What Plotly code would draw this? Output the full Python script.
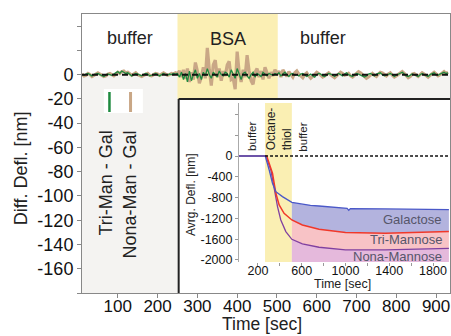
import plotly.graph_objects as go

# ---------------- main chart data ----------------
time_start, time_stop, time_step = 10, 935, 5
time_s = list(range(time_start, time_stop, time_step))  # 10 .. 930

nona_man_gal = [
    0.5, -1.0, -0.5, 1.0, 0.0, -1.5, -0.5, 0.5, 1.5, 0.5,
    -0.5, -1.5, -1.0, 0.5, 1.0, 0.0, -1.0, 0.5, 2.0, 1.0,
    2.5, 3.0, 1.5, 2.0, 0.5, -0.5, 0.5, 1.5, 0.0, -1.0,
    -1.5, -0.5, 0.5, 1.0, -0.5, -1.0, 0.0, 1.0, 0.5, -0.5,
    0.5, 1.5, 0.5, -0.5, 0.0, 1.0, 0.5, 1.5,
    # BSA 250..500
    1.0, 3.0, -2.0, 4.0, -3.5, 5.0, -6.0, 2.0, -4.0, 10.0,
    3.0, -7.0, -2.0, 6.0, -3.0, 22.0, 4.0, -9.0, 8.0, 12.0,
    -2.0, 5.0, -5.0, 3.0, -1.0, 8.0, 11.0, -4.0, -3.0, -12.0,
    19.0, 2.0, -6.0, 4.0, -2.0, 16.0, 3.0, -5.0, -8.0, 2.0,
    5.0, -2.0, 3.0, -4.0, 6.0, 1.0, -3.0, 2.0, -1.0, 4.0,
    0.5,
    # buffer 505..930
    3.0, -2.0, 4.0, 1.0, -1.5, 2.5, 0.0, -2.0, 1.5, 3.0,
    0.5, -1.5, -2.5, 0.0, 1.5, -1.0, -3.0, -1.5, 0.5, 2.0,
    1.0, -0.5, -2.0, -1.0, 0.5, 1.5, 0.0, -1.5, -2.5, -1.0,
    0.5, 2.0, 1.0, -0.5, 0.0, 1.0, -1.0, -2.0, -0.5, 1.0,
    2.5, 1.5, 0.0, -1.5, -3.0, -2.0, 0.0, 1.0, -0.5, -1.5,
    0.5, 2.0, 1.5, 0.0, -1.0, 0.5, 1.5, -0.5, -2.0, -1.0,
    0.0, 1.5, 2.5, 1.0, -0.5, -2.5, -1.5, 0.5, 1.0, -0.5,
    -1.5, 0.0, 1.5, 0.5, -1.0, -2.0, -0.5, 1.0, 2.0, 0.5,
    -1.0, 0.0, 1.5, 2.5, 1.0, 2.0,
]

tri_man_gal = [
    0.0, -0.5, 0.5, 1.0, 0.0, -1.0, 0.0, 0.5, 1.0, 0.0,
    -1.0, -1.5, -0.5, 0.5, 0.0, -0.5, 0.5, 1.5, 2.5, 1.0,
    3.0, 2.0, 1.0, 1.5, 0.0, -1.0, 0.0, 1.0, 0.5, -0.5,
    -1.0, 0.0, 1.0, 0.5, -1.0, -0.5, 0.5, 1.0, 0.0, -1.0,
    0.0, 1.0, 0.0, -0.5, 0.5, 0.0, 1.0, 0.5,
    # BSA
    1.0, -2.0, 2.0, -4.0, 1.0, -6.0, 3.0, -5.0, 0.0, 4.0,
    -3.0, 1.0, -4.0, 2.0, -1.0, 5.0, 0.0, -3.0, 2.0, 0.0,
    -2.0, 3.0, 0.0, -1.0, 2.0, 1.0, -2.0, 4.0, 0.0, -3.0,
    5.0, 0.0, -4.0, 1.0, 2.0, -1.0, -3.0, 0.0, 2.0, -2.0,
    1.0, 0.0, -1.5, 2.0, 0.5, -1.0, 1.0, 0.0, -0.5, 1.0,
    0.0,
    # buffer
    1.5, -1.0, 0.5, 2.0, 0.0, -1.5, 0.5, 1.0, -0.5, 0.0,
    -1.0, 0.5, 1.0, -0.5, -1.5, -0.5, 0.5, -1.0, -2.0, 0.0,
    1.0, 0.5, -1.0, -1.5, 0.0, 1.0, 0.5, -0.5, -1.5, 0.0,
    1.0, 0.0, -1.0, 0.5, 1.5, 0.0, -0.5, -1.5, 0.0, 1.0,
    0.5, -0.5, -1.0, -2.0, -1.0, 0.5, 1.0, 0.0, -1.0, 0.5,
    1.0, 1.5, 0.0, -1.0, -0.5, 0.5, 1.0, 0.0, -1.5, -0.5,
    0.5, 1.0, 2.0, 0.5, -1.0, -1.5, -0.5, 0.5, 0.0, -1.0,
    -1.5, 0.0, 1.0, 0.0, -0.5, -1.5, 0.0, 1.0, 1.5, 0.0,
    -0.5, 0.5, 1.0, 2.0, 1.0, 1.5,
]

main_yticks = [40, 20, 0, -20, -40, -60, -80, -100, -120, -140, -160, -180]
main_yticktext = ["", "", "0", "-20", "-40", "-60", "-80", "-100", "-120", "-140", "-160", ""]
main_xticks = [100, 200, 300, 400, 500, 600, 700, 800, 900]

# ---------------- inset data ----------------
gal_t = [27, 267, 303, 333, 364, 424, 510, 600, 680, 758, 1000, 1015, 1030, 1045, 1364, 1600, 1945]
gal_v = [0, 0, -269, -525, -686, -782, -891, -930, -950, -962, -1006, -1008, -1045, -1012, -1019, -1025, -1032]

tri_t = [27, 280, 333, 364, 394, 439, 510, 606, 758, 1000, 1364, 1650, 1945]
tri_v = [0, 0, -333, -718, -942, -1103, -1231, -1327, -1410, -1474, -1487, -1475, -1455]

nona_t = [27, 273, 318, 348, 379, 409, 455, 510, 606, 758, 1000, 1364, 1945]
nona_v = [0, 0, -269, -654, -974, -1231, -1455, -1603, -1692, -1756, -1808, -1808, -1776]

inset_yticks = [800, 400, 0, -400, -800, -1200, -1600, -2000]
inset_yticktext = ["", "", "0", "-400", "-800", "-1200", "-1600", "-2000"]
inset_xticks = [200, 400, 600, 800, 1000, 1200, 1400, 1600, 1800]
inset_xticktext = ["200", "", "600", "", "1000", "", "1400", "", "1800"]

FONT = "Liberation Sans, Arial, sans-serif"
TAN = "#c9a786"
GREEN = "#1f8a3f"
BLUE = "#4a58c8"
RED = "#f0382a"
PURPLE = "#8040a0"

fig = go.Figure()

# main traces
fig.add_trace(go.Scatter(x=time_s, y=nona_man_gal, mode="lines",
                         line=dict(color=TAN, width=3.2), hoverinfo="skip"))
fig.add_trace(go.Scatter(x=time_s, y=tri_man_gal, mode="lines",
                         line=dict(color=GREEN, width=1.3), hoverinfo="skip"))

# inset fills (from end of octanethiol band)
FILL_START = 510
Y2_BOTTOM = -2040


def seg(ts, vs):
    xs = [t for t in ts if t >= FILL_START]
    ys = [v for t, v in zip(ts, vs) if t >= FILL_START]
    return xs, ys


gx, gy = seg(gal_t, gal_v)
rx, ry = seg(tri_t, tri_v)
nx, ny = seg(nona_t, nona_v)

fig.add_trace(go.Scatter(x=gx + rx[::-1], y=gy + ry[::-1], fill="toself", mode="none",
                         fillcolor="#b3b3de", xaxis="x2", yaxis="y2", hoverinfo="skip"))
fig.add_trace(go.Scatter(x=rx + nx[::-1], y=ry + ny[::-1], fill="toself", mode="none",
                         fillcolor="#f8c3c6", xaxis="x2", yaxis="y2", hoverinfo="skip"))
fig.add_trace(go.Scatter(x=nx + [nx[-1], nx[0]], y=ny + [Y2_BOTTOM, Y2_BOTTOM], fill="toself",
                         mode="none", fillcolor="#e5b9dc", xaxis="x2", yaxis="y2", hoverinfo="skip"))

fig.add_trace(go.Scatter(x=nona_t, y=nona_v, mode="lines", line=dict(color=PURPLE, width=1.3),
                         xaxis="x2", yaxis="y2", hoverinfo="skip"))
fig.add_trace(go.Scatter(x=tri_t, y=tri_v, mode="lines", line=dict(color=RED, width=1.5),
                         xaxis="x2", yaxis="y2", hoverinfo="skip"))
fig.add_trace(go.Scatter(x=gal_t, y=gal_v, mode="lines", line=dict(color=BLUE, width=1.3),
                         xaxis="x2", yaxis="y2", hoverinfo="skip"))

shapes = [
    # light gray area below zero
    dict(type="rect", xref="x domain", yref="y", x0=0, x1=1, y0=-180, y1=0,
         fillcolor="#f4f3f1", line=dict(width=0), layer="below"),
    # BSA band
    dict(type="rect", xref="x", yref="y", x0=250, x1=502, y0=-20, y1=50,
         fillcolor="#fbefb4", line=dict(width=0), layer="below"),
    # inset box
    dict(type="rect", xref="x", yref="y", x0=253, x1=935, y0=-180, y1=-20,
         fillcolor="#ffffff", line=dict(width=0), layer="below"),
    dict(type="line", xref="x", yref="y", x0=253, x1=935, y0=-20, y1=-20,
         line=dict(color="#222222", width=2), layer="below"),
    dict(type="line", xref="x", yref="y", x0=253, x1=253, y0=-20, y1=-180,
         line=dict(color="#222222", width=2), layer="below"),
    # legend box
    dict(type="rect", xref="x", yref="y", x0=65, x1=163, y0=-31.6, y1=-11.8,
         fillcolor="#ffffff", line=dict(width=0), layer="below"),
    dict(type="line", xref="x", yref="y", x0=79, x1=79, y0=-14.3, y1=-30.8,
         line=dict(color=GREEN, width=2.5), layer="above"),
    dict(type="line", xref="x", yref="y", x0=132, x1=132, y0=-14.3, y1=-30.8,
         line=dict(color=TAN, width=3), layer="above"),
    # main zero line
    dict(type="line", xref="x domain", yref="y", x0=0, x1=1, y0=0, y1=0,
         line=dict(color="#111111", width=2, dash="6px,4px"), layer="above"),
    # inset octanethiol band
    dict(type="rect", xref="x2", yref="y2", x0=265, x1=510, y0=Y2_BOTTOM, y1=1020,
         fillcolor="#faefb3", line=dict(width=0), layer="below"),
    # inset zero line
    dict(type="line", xref="x2", yref="y2", x0=265, x1=1945, y0=0, y1=0,
         line=dict(color="#111111", width=1.5, dash="3px,2px"), layer="above"),
]

ann = []


def text(x, y, s, size, xref="x", yref="y", angle=0, color="#222222", xanchor="center",
         align="center", yanchor="middle"):
    ann.append(dict(x=x, y=y, xref=xref, yref=yref, text=s, showarrow=False, textangle=angle,
                    font=dict(family=FONT, size=size, color=color), xanchor=xanchor,
                    yanchor=yanchor, align=align))


text(130.7, 30.0, "buffer", 18)
text(377, 29.5, "BSA", 18)
text(615.8, 30.0, "buffer", 18)
text(72.8, -88.9, "Tri-Man - Gal", 18, angle=-90)
text(129.4, -99.2, "Nona-Man - Gal", 18, angle=-90)
text(0.489, -0.1541, "Time [sec]", 17.5, xref="paper", yref="paper", yanchor="bottom")
text(-0.1666, 0.446, "Diff. Defl. [nm]", 18, xref="paper", yref="paper", angle=-90)
# inset texts
text(0.296, 0.351, "Avrg. Defl. [nm]", 12, xref="paper", yref="paper", angle=-90)
text(0.708, 0.032, "Time [sec]", 12.5, xref="paper", yref="paper")
text(145, 385, "buffer", 11.5, xref="x2", yref="y2", angle=-90)
text(391, 529, "Octane-<br>thiol", 12, xref="x2", yref="y2", angle=-90, align="left")
text(609, 366, "buffer", 11.5, xref="x2", yref="y2", angle=-90)
text(1900, -1230, "Galactose", 13, xref="x2", yref="y2", color="#56566a", xanchor="right")
text(1900, -1615, "Tri-Mannose", 13, xref="x2", yref="y2", color="#56566a", xanchor="right")
text(1900, -1936, "Nona-Mannose", 13, xref="x2", yref="y2", color="#56566a", xanchor="right")

fig.update_layout(
    width=451, height=336,
    margin=dict(l=82, r=1, t=14, b=43),
    paper_bgcolor="white", plot_bgcolor="white",
    showlegend=False,
    shapes=shapes, annotations=ann,
    font=dict(family=FONT, color="#111111"),
    xaxis=dict(range=[10, 935], tickvals=main_xticks, ticks="outside", ticklen=4,
               tickcolor="#888888", showline=True, linecolor="#888888", linewidth=1,
               mirror=True, showgrid=False, zeroline=False, ticklabeloverflow="allow",
               ticklabelstandoff=-6,
               tickfont=dict(size=17, family=FONT, color="#111111")),
    yaxis=dict(range=[-180, 50], tickvals=main_yticks, ticktext=main_yticktext,
               ticks="outside", ticklen=4, tickcolor="#888888", showline=True,
               linecolor="#888888", linewidth=1, mirror=True, showgrid=False,
               zeroline=False, tickfont=dict(size=18, family=FONT, color="#111111")),
    xaxis2=dict(domain=[0.4266, 0.997], anchor="y2", range=[27, 1945],
                tickvals=inset_xticks, ticktext=inset_xticktext, ticks="outside",
                ticklen=3, tickcolor="#999999", showline=False, showgrid=False,
                zeroline=False, ticklabelstandoff=-6,
                tickfont=dict(size=12.5, family=FONT, color="#111111")),
    yaxis2=dict(domain=[0.1111, 0.681], anchor="x2", range=[Y2_BOTTOM, 1020],
                tickvals=inset_yticks, ticktext=inset_yticktext, ticks="outside",
                ticklen=3, tickcolor="#999999", showline=True, linecolor="#aaaaaa",
                showgrid=False, zeroline=False,
                tickfont=dict(size=12.5, family=FONT, color="#111111")),
)

fig.write_html("out.html")
